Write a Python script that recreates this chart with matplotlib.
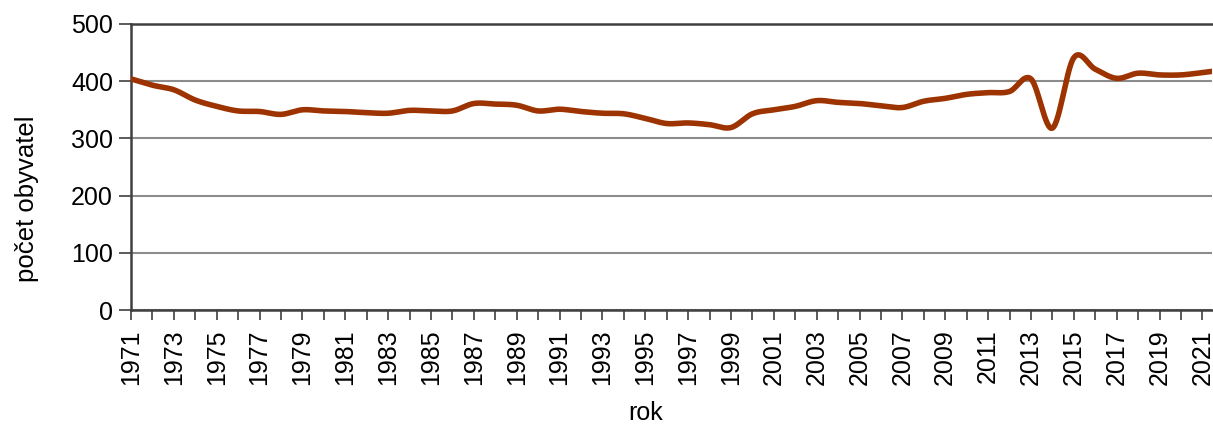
import numpy as np
import matplotlib
matplotlib.use("Agg")
import matplotlib.pyplot as plt

plt.rcParams['font.family'] = ['Liberation Sans', 'DejaVu Sans']

years = list(range(1971, 2023))
population = [404, 393, 385, 367, 356, 348, 347, 342, 350, 348,
              347, 345, 344, 349, 348, 348, 361, 360, 358, 348,
              351, 347, 344, 343, 335, 326, 327, 324, 319, 343,
              350, 356, 366, 363, 361, 357, 354, 365, 370, 377,
              380, 382, 404, 318, 441, 421, 405, 414, 411, 411,
              415, 420]
y_ticks = [0, 100, 200, 300, 400, 500]
x_label_years = list(range(1971, 2022, 2))

LINE_COLOR = '#9c3300'
GRID_COLOR = '#8c8c8c'
AXIS_COLOR = '#404040'


def smooth(x, y, n=30):
    """Catmull-Rom style Bezier smoothing similar to spreadsheet 'smoothed line'."""
    x = np.asarray(x, float)
    y = np.asarray(y, float)
    px = np.concatenate([[x[0]], x, [x[-1]]])
    py = np.concatenate([[y[0]], y, [y[-1]]])
    xs, ys = [], []
    t = np.linspace(0, 1, n, endpoint=False)
    for i in range(1, len(px) - 2):
        p0 = np.array([px[i], py[i]])
        p3 = np.array([px[i + 1], py[i + 1]])
        c1 = p0 + (np.array([px[i + 1], py[i + 1]]) - np.array([px[i - 1], py[i - 1]])) / 6
        c2 = p3 - (np.array([px[i + 2], py[i + 2]]) - np.array([px[i], py[i]])) / 6
        b = ((1 - t) ** 3)[:, None] * p0 + (3 * (1 - t) ** 2 * t)[:, None] * c1 \
            + (3 * (1 - t) * t ** 2)[:, None] * c2 + (t ** 3)[:, None] * p3
        xs.append(b[:, 0])
        ys.append(b[:, 1])
    xs.append([x[-1]])
    ys.append([y[-1]])
    return np.concatenate(xs), np.concatenate(ys)


W, H = 1213, 425
fig = plt.figure(figsize=(W / 100, H / 100), dpi=100)
ax = fig.add_axes([131 / W, 1 - 310 / H, 1081 / W, 286 / H])

sx, sy = smooth(years, population)
ax.plot(sx, sy, color=LINE_COLOR, lw=4.0, solid_capstyle='round', zorder=3, clip_on=True)

ax.set_xlim(1971, 2021.45)
ax.set_ylim(0, 500)
ax.set_yticks(y_ticks)
ax.set_xticks(years[:-1])
ax.set_xticklabels([str(yr) if yr in x_label_years else '' for yr in years[:-1]], rotation=90)

ax.yaxis.grid(True, color=GRID_COLOR, lw=1.5)
ax.set_axisbelow(True)

for side in ['left', 'bottom', 'top']:
    ax.spines[side].set_color(AXIS_COLOR)
    ax.spines[side].set_linewidth(1.8)
ax.spines['right'].set_visible(False)

ax.tick_params(axis='y', length=8.4, width=1.2, color=AXIS_COLOR, labelsize=18, pad=4.5)
ax.tick_params(axis='x', length=7, width=1.2, color=AXIS_COLOR, labelsize=18, pad=7)

fig.text(27 / W, 1 - 199 / H, 'počet obyvatel', fontsize=18.5, rotation=90,
         ha='center', va='center')
fig.text(646 / W, 1 - 413 / H, 'rok', fontsize=18, ha='center', va='center')

fig.savefig('out.png', dpi=100)
